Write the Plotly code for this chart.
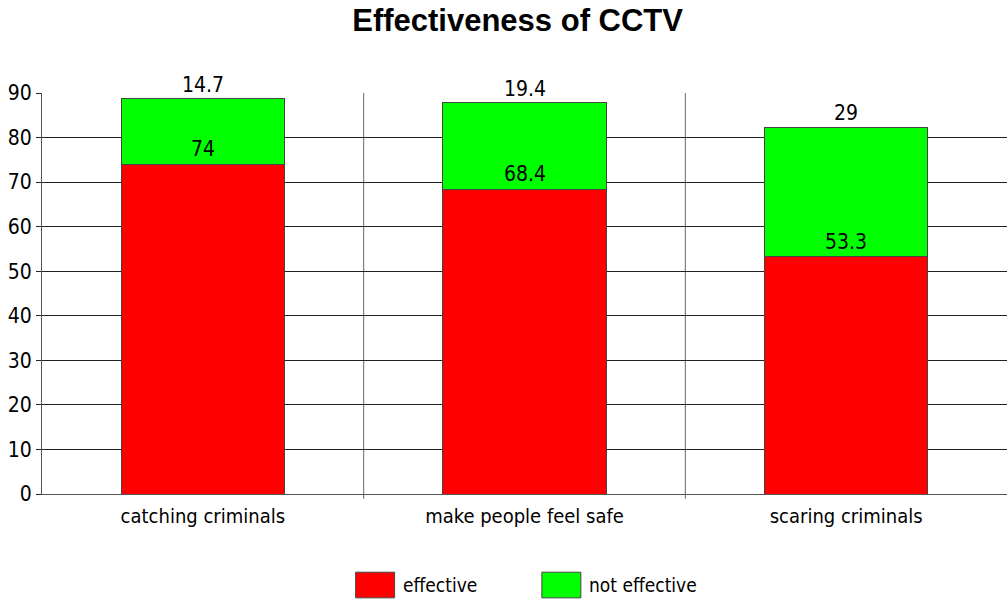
import plotly.graph_objects as go

# Chart data
categories = ["catching criminals", "make people feel safe", "scaring criminals"]
effective = [74, 68.4, 53.3]
not_effective = [14.7, 19.4, 29]
series_names = ["effective", "not effective"]
series_colors = ["#ff0000", "#00ff00"]

FONT = "Liberation Sans Narrow, Arial Narrow, DejaVu Sans Condensed, sans-serif"

fig = go.Figure()

# Stacked bars
for name, vals, col in zip(series_names, [effective, not_effective], series_colors):
    fig.add_trace(
        go.Bar(
            x = list(range(len(categories))),
            y = vals,
            name = name,
            width = 0.507,
            marker = dict(color = col, line = dict(color = "#444444", width = 1)),
            showlegend = False))

# Value labels above each segment top
for i in range(len(categories)):
    fig.add_annotation(x = i, y = effective[i], text = f"{effective[i]:g}",
                       showarrow = False, yanchor = "bottom", yshift = 1,
                       font = dict(family = FONT, size = 21, color = "black"))
    fig.add_annotation(x = i, y = effective[i] + not_effective[i], text = f"{not_effective[i]:g}",
                       showarrow = False, yanchor = "bottom", yshift = 0,
                       font = dict(family = FONT, size = 21, color = "black"))

# Category separators (vertical grid lines with small tick below axis)
for b in range(1, len(categories)):
    fig.add_shape(type = "line", xref = "x", yref = "paper",
                  x0 = b - 0.5, x1 = b - 0.5, y0 = -0.012, y1 = 1,
                  line = dict(color = "#666666", width = 1), layer = "below")

# Legend drawn manually to get large swatches
legend_x = [0.325, 0.518]
for name, col, lx in zip(series_names, series_colors, legend_x):
    fig.add_shape(type = "rect", xref = "paper", yref = "paper",
                  x0 = lx, x1 = lx + 0.0404, y0 = -0.259, y1 = -0.195,
                  fillcolor = col, line = dict(color = "#444444", width = 1))
    fig.add_annotation(xref = "paper", yref = "paper", x = lx + 0.047, y = -0.228,
                       text = name, showarrow = False, xanchor = "left", yanchor = "middle",
                       font = dict(family = FONT, size = 19, color = "black"))

fig.update_layout(
    barmode = "stack",
    title = dict(
        text = "<b>Effectiveness of CCTV</b>",
        x = 0.514, xanchor = "center", y = 0.967, yanchor = "middle",
        font = dict(family = "Liberation Sans, Arial, sans-serif", size = 31, color = "black")),
    xaxis = dict(
        tickmode = "array",
        tickvals = list(range(len(categories))),
        ticktext = categories,
        range = [-0.5, len(categories) - 0.5],
        showgrid = False,
        showline = True, linecolor = "#555555", linewidth = 1,
        ticks = "",
        ticklabelstandoff = 4,
        tickfont = dict(family = FONT, size = 20, color = "black")),
    yaxis = dict(
        range = [0, 90],
        dtick = 10,
        showgrid = True, gridcolor = "#222222", gridwidth = 1,
        showline = True, linecolor = "#555555", linewidth = 1,
        ticks = "outside", ticklen = 5, tickcolor = "#222222",
        zeroline = False,
        tickfont = dict(family = FONT, size = 21, color = "black")),
    plot_bgcolor = "white",
    paper_bgcolor = "white",
    margin = dict(l = 42, r = 0, t = 93, b = 106),
    width = 1007,
    height = 600)

fig.write_html("out.html",
               config = {"displayModeBar": False},
               post_script = "document.body.style.margin='0px';document.body.style.overflow='hidden';")
